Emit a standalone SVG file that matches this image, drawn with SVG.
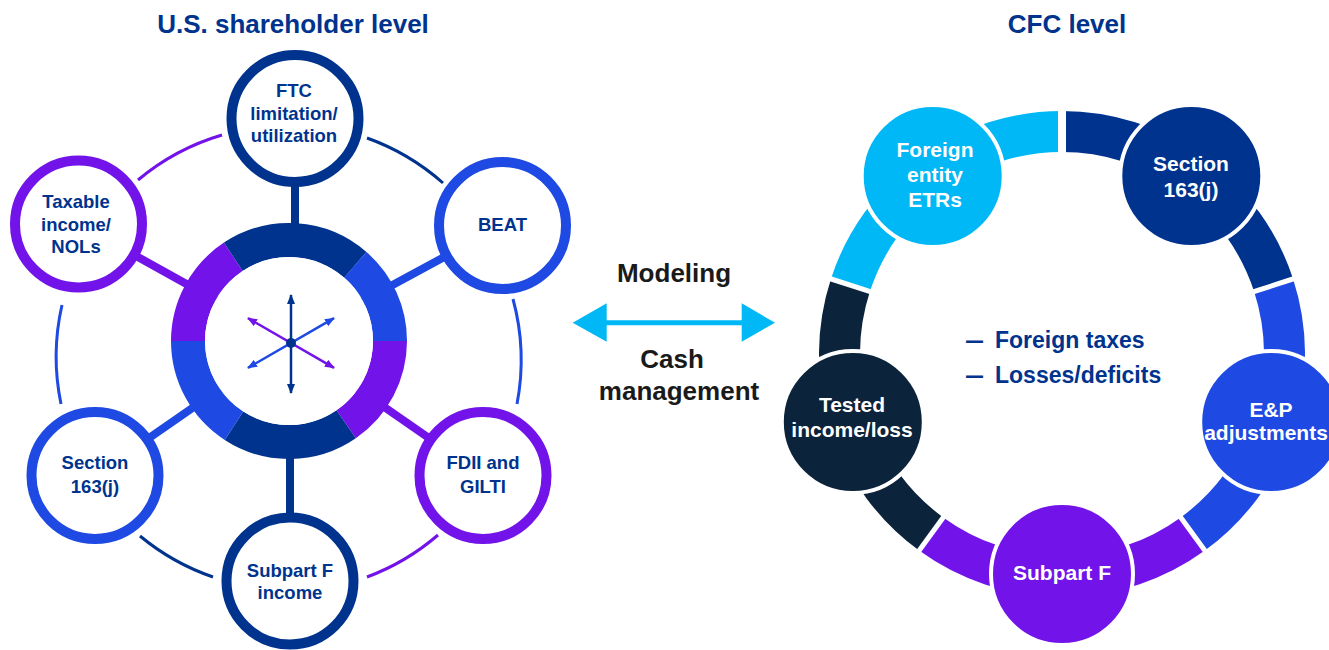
<svg xmlns="http://www.w3.org/2000/svg" width="1329" height="650" viewBox="0 0 1329 650">
<defs>
<style>
text { font-family: "Liberation Sans", Arial, Helvetica, sans-serif; font-weight: bold; text-anchor: middle; }
.title { font-size: 26px; fill: #00338D; }
.lt { font-size: 18.5px; fill: #00338D; }
.rt { font-size: 21px; fill: #FFFFFF; }
.mid { font-size: 26px; fill: #1A1A1A; }
.bul { font-size: 23px; fill: #00338D; text-anchor: start; }
.ringl { fill: none; stroke-width: 34; }
.ringr { fill: none; stroke-width: 41; }
.spoke { stroke-width: 8; fill: none; }
.thin { fill: none; stroke-width: 3; }
.gap { stroke: #FFFFFF; stroke-width: 5; }
.lnode { fill: #FFFFFF; stroke-width: 10; }
.rnode { stroke: #FFFFFF; stroke-width: 4; }
.ax { stroke-width: 2.5; fill: none; }
.navy { stroke: #00338D; }
.blue { stroke: #1E49E2; }
.purple { stroke: #7213EA; }
.light { stroke: #00B8F5; }
.dark { stroke: #0C233C; }
</style>
<marker id="ah-navy" viewBox="0 0 10 8" refX="9" refY="4" markerWidth="10" markerHeight="8" markerUnits="userSpaceOnUse" orient="auto-start-reverse"><path d="M0,0 L10,4 L0,8 Z" fill="#00338D"/></marker>
<marker id="ah-purple" viewBox="0 0 10 8" refX="9" refY="4" markerWidth="10" markerHeight="8" markerUnits="userSpaceOnUse" orient="auto-start-reverse"><path d="M0,0 L10,4 L0,8 Z" fill="#7213EA"/></marker>
<marker id="ah-blue" viewBox="0 0 10 8" refX="9" refY="4" markerWidth="10" markerHeight="8" markerUnits="userSpaceOnUse" orient="auto-start-reverse"><path d="M0,0 L10,4 L0,8 Z" fill="#1E49E2"/></marker>
</defs>

<rect x="0" y="0" width="1329" height="650" fill="#FFFFFF"/>

<g id="titles">
<text class="title" x="293" y="33">U.S. shareholder level</text>
<text class="title" x="1067" y="33">CFC level</text>
</g>

<g id="connectors">
<path class="thin purple" d="M138,180 A233,233 0 0 1 222,135"/>
<path class="thin navy" d="M367,138 A233,233 0 0 1 443,183"/>
<path class="thin blue" d="M513,299 A233,233 0 0 1 517,404"/>
<path class="thin purple" d="M438,535 A233,233 0 0 1 367,577"/>
<path class="thin navy" d="M213,577 A233,233 0 0 1 140,536"/>
<path class="thin blue" d="M61,404 A233,233 0 0 1 62,305"/>
<line class="spoke navy" x1="295" y1="180" x2="295" y2="235"/>
<line class="spoke navy" x1="290" y1="450" x2="290" y2="520"/>
<line class="spoke purple" x1="78.5" y1="224" x2="289" y2="341"/>
<line class="spoke blue" x1="502.5" y1="225.5" x2="289" y2="341"/>
<line class="spoke purple" x1="483" y1="475.5" x2="289" y2="341"/>
<line class="spoke blue" x1="95" y1="475.5" x2="289" y2="341"/>
<g id="modeling-arrow">
<line x1="603" y1="322.7" x2="745" y2="322.7" stroke="#00B8F5" stroke-width="5"/>
<polygon points="572.7,322.7 606.7,303.3 606.7,341.7" fill="#00B8F5"/>
<polygon points="775,322.7 741.7,303.3 741.7,341.7" fill="#00B8F5"/>
</g>
<path class="ringr light" d="M850.4,285.25 A222.5,222.5 0 0 1 1062,131.5"/>
<path class="ringr navy" d="M1062,131.5 A222.5,222.5 0 0 1 1273.6,285.25"/>
<path class="ringr blue" d="M1273.6,285.25 A222.5,222.5 0 0 1 1192.8,534"/>
<path class="ringr purple" d="M1192.8,534 A222.5,222.5 0 0 1 931.2,534"/>
<path class="ringr dark" d="M931.2,534 A222.5,222.5 0 0 1 850.4,285.25"/>
<line class="gap" x1="1062" y1="162" x2="1062" y2="100" style="stroke-width:8"/>
<line class="gap" x1="1247.5" y1="293.7" x2="1299.8" y2="276.75"/>
<line class="gap" x1="1176.6" y1="511.8" x2="1209" y2="556.25"/>
<line class="gap" x1="947.4" y1="511.8" x2="915" y2="556.25"/>
<line class="gap" x1="876.5" y1="293.7" x2="824.2" y2="276.75"/>
</g>

<g id="node-hub">
<path class="ringl purple" d="M390,341 A101,101 0 0 1 346.2,424.2"/>
<path class="ringl navy" d="M346.2,424.2 A101,101 0 0 1 234,425.7"/>
<path class="ringl blue" d="M234,425.7 A101,101 0 0 1 188,341"/>
<path class="ringl purple" d="M188,341 A101,101 0 0 1 233.3,256.8"/>
<path class="ringl navy" d="M233.3,256.8 A101,101 0 0 1 355.3,264.8"/>
<path class="ringl blue" d="M355.3,264.8 A101,101 0 0 1 390,341"/>
<circle cx="289" cy="341" r="84" fill="#FFFFFF"/>
<line class="ax blue" x1="248" y1="367.8" x2="334" y2="318.2" marker-start="url(#ah-blue)" marker-end="url(#ah-blue)"/>
<line class="ax purple" x1="248" y1="318.2" x2="334" y2="367.8" marker-start="url(#ah-purple)" marker-end="url(#ah-purple)"/>
<line class="ax navy" x1="291" y1="295" x2="291" y2="393" marker-start="url(#ah-navy)" marker-end="url(#ah-navy)"/>
<circle cx="291" cy="343" r="5" fill="#00338D"/>
</g>

<g id="node-ftc">
<circle class="lnode navy" cx="295" cy="118.5" r="63.5"/>
<text class="lt" x="294" y="97">FTC</text>
<text class="lt" x="294" y="120">limitation/</text>
<text class="lt" x="294" y="142">utilization</text>
</g>
<g id="node-taxable">
<circle class="lnode purple" cx="78.5" cy="224" r="63.5"/>
<text class="lt" x="76" y="208">Taxable</text>
<text class="lt" x="76" y="231">income/</text>
<text class="lt" x="76" y="253">NOLs</text>
</g>
<g id="node-beat">
<circle class="lnode blue" cx="502.5" cy="225.5" r="63.5"/>
<text class="lt" x="502.5" y="231">BEAT</text>
</g>
<g id="node-fdii">
<circle class="lnode purple" cx="483" cy="475.5" r="63.5"/>
<text class="lt" x="483" y="469">FDII and</text>
<text class="lt" x="483" y="493">GILTI</text>
</g>
<g id="node-subpart-income">
<circle class="lnode navy" cx="290" cy="581" r="63.5"/>
<text class="lt" x="290" y="577">Subpart F</text>
<text class="lt" x="290" y="599">income</text>
</g>
<g id="node-section-left">
<circle class="lnode blue" cx="95" cy="475.5" r="63.5"/>
<text class="lt" x="95" y="469">Section</text>
<text class="lt" x="95" y="493">163(j)</text>
</g>

<g id="middle-labels">
<text class="mid" x="674" y="282">Modeling</text>
<text class="mid" x="672" y="368">Cash</text>
<text class="mid" x="679" y="400">management</text>
</g>

<g id="node-foreign">
<circle class="rnode" cx="932.7" cy="176" r="71" fill="#00B8F5"/>
<text class="rt" x="935" y="157">Foreign</text>
<text class="rt" x="935" y="182">entity</text>
<text class="rt" x="935" y="207">ETRs</text>
</g>
<g id="node-section-right">
<circle class="rnode" cx="1191.3" cy="176" r="71" fill="#00338D"/>
<text class="rt" x="1191" y="171">Section</text>
<text class="rt" x="1191" y="197">163(j)</text>
</g>
<g id="node-ep">
<circle class="rnode" cx="1271.2" cy="422" r="71" fill="#1E49E2"/>
<text class="rt" x="1271" y="417">E&amp;P</text>
<text class="rt" x="1266" y="440">adjustments</text>
</g>
<g id="node-subpart">
<circle class="rnode" cx="1062" cy="574" r="71" fill="#7213EA"/>
<text class="rt" x="1062" y="580">Subpart F</text>
</g>
<g id="node-tested">
<circle class="rnode" cx="852.8" cy="422" r="71" fill="#0C233C"/>
<text class="rt" x="852" y="412">Tested</text>
<text class="rt" x="852" y="437">income/loss</text>
</g>

<g id="cfc-notes">
<text class="bul" x="966" y="348" textLength="17" lengthAdjust="spacingAndGlyphs">—</text>
<text class="bul" x="995" y="348">Foreign taxes</text>
<text class="bul" x="966" y="383" textLength="17" lengthAdjust="spacingAndGlyphs">—</text>
<text class="bul" x="995" y="383">Losses/deficits</text>
</g>
</svg>
